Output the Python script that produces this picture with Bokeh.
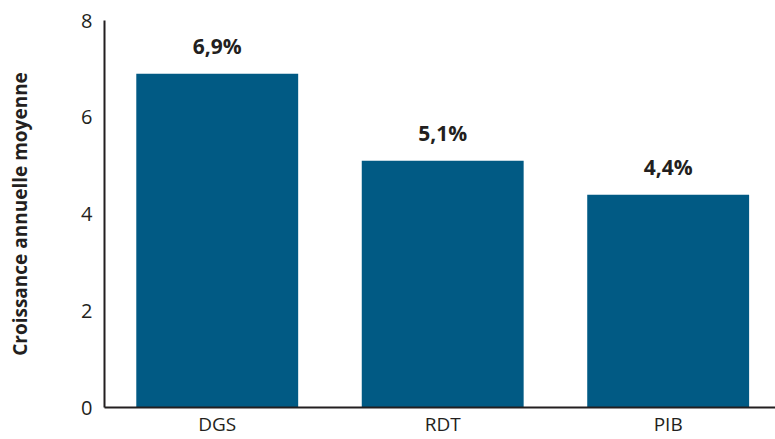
from bokeh.plotting import figure
from bokeh.models import Range1d, FixedTicker, ColumnDataSource
from bokeh.core.properties import value
from bokeh.embed import file_html
from bokeh.resources import INLINE

categories = ["DGS", "RDT", "PIB"]
values = [6.9, 5.1, 4.4]
labels = ["6,9%", "5,1%", "4,4%"]
y_ticks = [0, 2, 4, 6, 8]

BAR_COLOR = "#015A84"
AXIS_COLOR = "#231F20"
FONT = "Open Sans"

x_pos = [i + 0.5 for i in range(len(categories))]
src = ColumnDataSource(dict(x=x_pos, top=values, label=labels))

p = figure(
    output_backend="svg", toolbar_location=None,
    width=775, height=439,
    min_border_left=104, min_border_top=20, min_border_right=0, min_border_bottom=31,
    x_range=Range1d(0, 2.976), y_range=Range1d(0, 8),
    background_fill_color="white", border_fill_color="white",
)
p.outline_line_color = None
p.xgrid.grid_line_color = None
p.ygrid.grid_line_color = None

p.vbar(x="x", top="top", width=0.718, bottom=0, source=src,
       fill_color=BAR_COLOR, line_color=None)
p.text(x="x", y="top", text="label", source=src,
       text_font=value(FONT), text_font_style="bold", text_font_size="21px",
       text_align="center", text_baseline="bottom", y_offset=-14,
       text_color="#231F20")

xa = p.xaxis[0]
xa.ticker = FixedTicker(ticks=x_pos)
xa.major_label_overrides = {x: c for x, c in zip(x_pos, categories)}
xa.major_tick_line_color = None
xa.minor_tick_line_color = None
xa.major_tick_out = 0
xa.major_tick_in = 0
xa.minor_tick_out = 0
xa.axis_line_color = AXIS_COLOR
xa.axis_line_width = 2
xa.major_label_text_font = FONT
xa.major_label_text_font_size = "19px"
xa.major_label_text_color = "#231F20"
xa.major_label_standoff = 3

ya = p.yaxis[0]
ya.ticker = FixedTicker(ticks=y_ticks)
ya.major_tick_line_color = None
ya.minor_tick_line_color = None
ya.major_tick_out = 0
ya.major_tick_in = 0
ya.minor_tick_out = 0
ya.axis_line_color = AXIS_COLOR
ya.axis_line_width = 2
ya.major_label_text_font = FONT
ya.major_label_text_font_size = "20px"
ya.major_label_text_color = "#231F20"
ya.major_label_standoff = 12
ya.axis_label = "Croissance annuelle moyenne"
ya.axis_label_text_font = FONT
ya.axis_label_text_font_style = "bold"
ya.axis_label_text_font_size = "19px"
ya.axis_label_text_color = "#231F20"
ya.axis_label_standoff = 45

open("out.html", "w").write(file_html(p, INLINE))
